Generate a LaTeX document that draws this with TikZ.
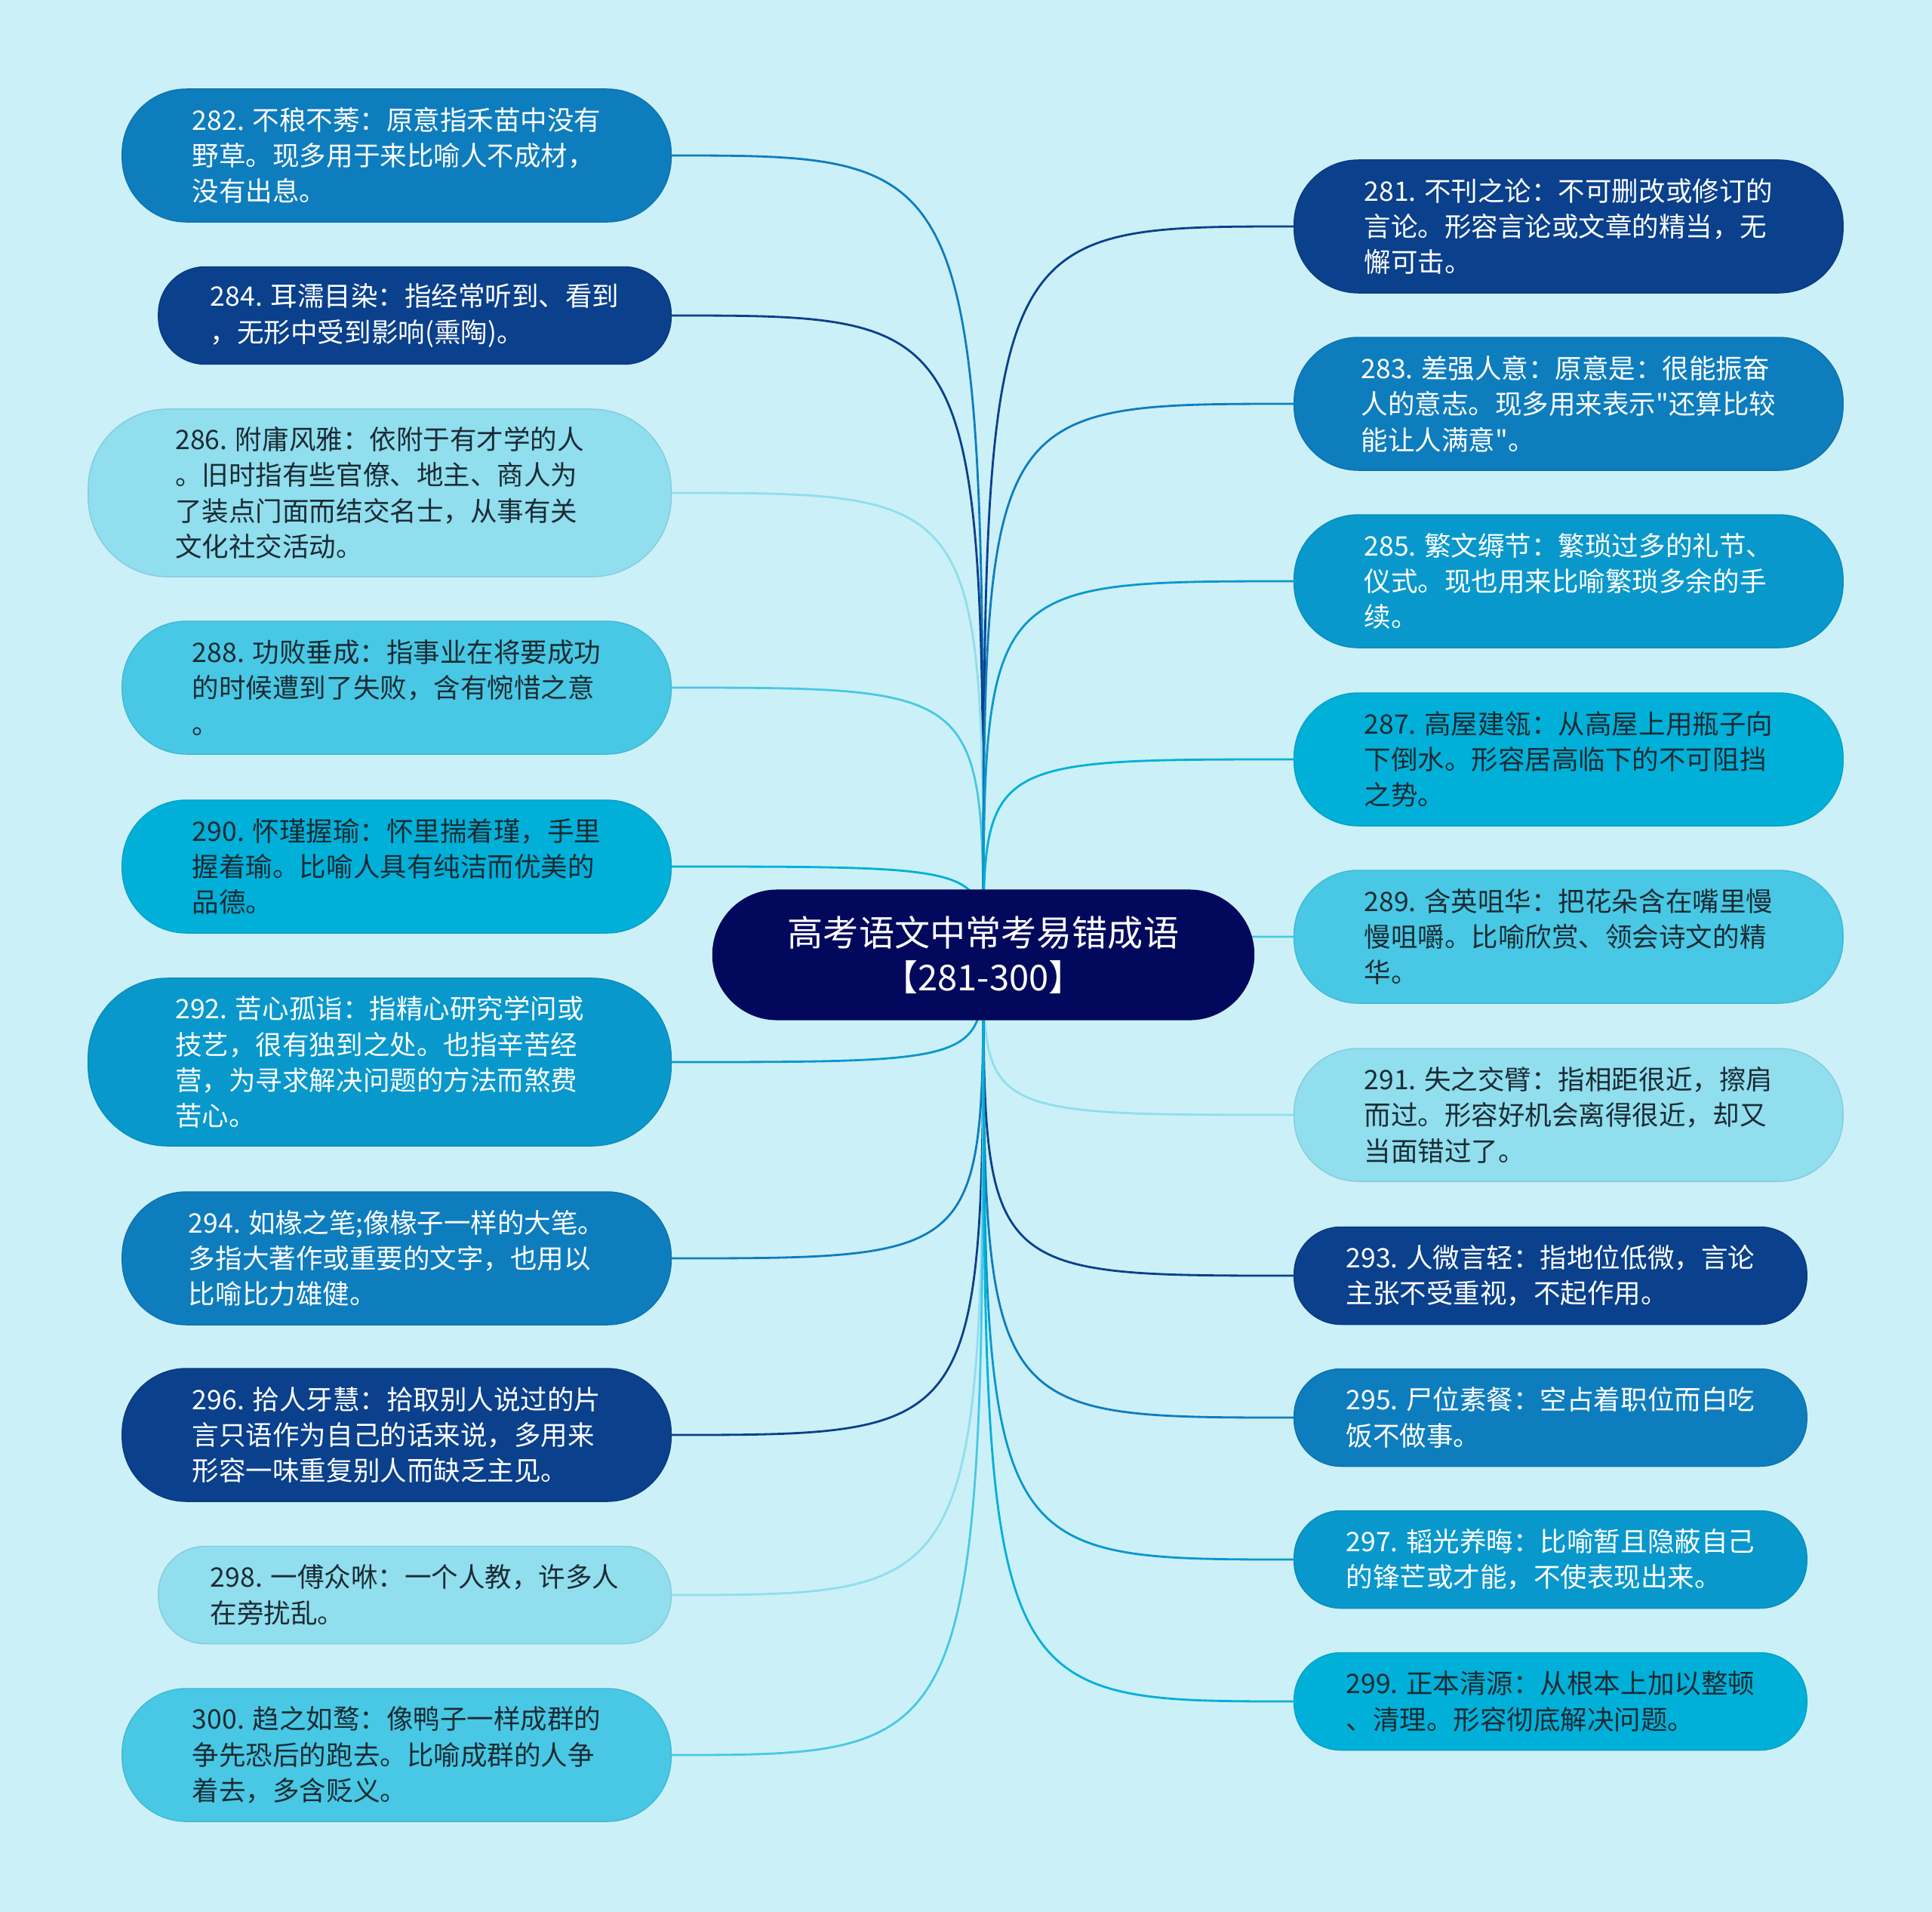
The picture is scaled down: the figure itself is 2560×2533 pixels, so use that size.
\documentclass[tikz,border=0pt]{standalone}
\usepackage{fontspec}
\setmainfont{Noto Sans CJK SC}
\newfontfamily\plainq{Noto Sans CJK SC}
\usetikzlibrary{positioning}
\definecolor{Bg}{HTML}{CCF0F8}
\definecolor{Root}{HTML}{02095C}
\definecolor{Deep}{HTML}{0A408C}
\definecolor{Mid}{HTML}{0E7DBE}
\definecolor{Sea}{HTML}{0998CC}
\definecolor{Aqua}{HTML}{00B0D8}
\definecolor{Sky}{HTML}{48C8E4}
\definecolor{Pale}{HTML}{90DEEE}
\definecolor{Ink}{HTML}{1B2B33}
\pgfdeclarelayer{bg}
\pgfsetlayers{bg,main}

\begin{document}
\begin{tikzpicture}[x=0.01cm, y=-0.01cm,
  leaf/.style={draw=#1!92!black, fill=#1, line width=0.4pt, align=left,
    inner sep=0pt, font=\fontsize{10.1pt}{13.46pt}\selectfont},
  whitetxt/.style={text=white}, inktxt/.style={text=Ink},
  rows2/.style={minimum width=6.79cm, minimum height=1.29cm, rounded corners=0.62cm},
  rows3/.style={minimum width=7.27cm, minimum height=1.76cm, rounded corners=0.85cm},
  rows4/.style={minimum width=7.72cm, minimum height=2.22cm, rounded corners=1.05cm},
  link/.style={line width=0.8pt}]
  \useasboundingbox (0,0) rectangle (2560,2533);

  % centre
  \node[fill=Root, text=white, rounded corners=0.86cm, minimum width=7.18cm,
    minimum height=1.73cm, align=center,
    font=\fontsize{13.4pt}{16.8pt}\selectfont] (root) at (1303,1265)
    {高考语文中常考易错成语\\【281-300】};

  % left column
  \node[leaf=Mid, whitetxt, rows3, anchor=east] (n282) at (890,206)
    {282. 不稂不莠：原意指禾苗中没有\\野草。现多用于来比喻人不成材，\\没有出息。};
  \node[leaf=Deep, whitetxt, rows2, anchor=east] (n284) at (890,418)
    {284. 耳濡目染：指经常听到、看到\\，无形中受到影响(熏陶)。};
  \node[leaf=Pale, inktxt, rows4, anchor=east] (n286) at (890,653)
    {286. 附庸风雅：依附于有才学的人\\。旧时指有些官僚、地主、商人为\\了装点门面而结交名士，从事有关\\文化社交活动。};
  \node[leaf=Sky, inktxt, rows3, anchor=east] (n288) at (890,911)
    {288. 功败垂成：指事业在将要成功\\的时候遭到了失败，含有惋惜之意\\。};
  \node[leaf=Aqua, inktxt, rows3, anchor=east] (n290) at (890,1148)
    {290. 怀瑾握瑜：怀里揣着瑾，手里\\握着瑜。比喻人具有纯洁而优美的\\品德。};
  \node[leaf=Sea, whitetxt, rows4, anchor=east] (n292) at (890,1407)
    {292. 苦心孤诣：指精心研究学问或\\技艺，很有独到之处。也指辛苦经\\营，为寻求解决问题的方法而煞费\\苦心。};
  \node[leaf=Mid, whitetxt, rows3, anchor=east] (n294) at (890,1667)
    {294. 如椽之笔;像椽子一样的大笔。\\多指大著作或重要的文字，也用以\\比喻比力雄健。};
  \node[leaf=Deep, whitetxt, rows3, anchor=east] (n296) at (890,1901)
    {296. 拾人牙慧：拾取别人说过的片\\言只语作为自己的话来说，多用来\\形容一味重复别人而缺乏主见。};
  \node[leaf=Pale, inktxt, rows2, anchor=east] (n298) at (890,2113)
    {298. 一傅众咻：一个人教，许多人\\在旁扰乱。};
  \node[leaf=Sky, inktxt, rows3, anchor=east] (n300) at (890,2325)
    {300. 趋之如鹜：像鸭子一样成群的\\争先恐后的跑去。比喻成群的人争\\着去，多含贬义。};

  % right column
  \node[leaf=Deep, whitetxt, rows3, anchor=west] (n281) at (1714,300)
    {281. 不刊之论：不可删改或修订的\\言论。形容言论或文章的精当，无\\懈可击。};
  \node[leaf=Mid, whitetxt, rows3, anchor=west] (n283) at (1714,535)
    {283. 差强人意：原意是：很能振奋\\人的意志。现多用来表示{\plainq"}还算比较\\能让人满意{\plainq"}。};
  \node[leaf=Sea, whitetxt, rows3, anchor=west] (n285) at (1714,770)
    {285. 繁文缛节：繁琐过多的礼节、\\仪式。现也用来比喻繁琐多余的手\\续。};
  \node[leaf=Aqua, inktxt, rows3, anchor=west] (n287) at (1714,1006)
    {287. 高屋建瓴：从高屋上用瓶子向\\下倒水。形容居高临下的不可阻挡\\之势。};
  \node[leaf=Sky, inktxt, rows3, anchor=west] (n289) at (1714,1241)
    {289. 含英咀华：把花朵含在嘴里慢\\慢咀嚼。比喻欣赏、领会诗文的精\\华。};
  \node[leaf=Pale, inktxt, rows3, anchor=west] (n291) at (1714,1477)
    {291. 失之交臂：指相距很近，擦肩\\而过。形容好机会离得很近，却又\\当面错过了。};
  \node[leaf=Deep, whitetxt, rows2, anchor=west] (n293) at (1714,1690)
    {293. 人微言轻：指地位低微，言论\\主张不受重视，不起作用。};
  \node[leaf=Mid, whitetxt, rows2, anchor=west] (n295) at (1714,1878)
    {295. 尸位素餐：空占着职位而白吃\\饭不做事。};
  \node[leaf=Sea, whitetxt, rows2, anchor=west] (n297) at (1714,2066)
    {297. 韬光养晦：比喻暂且隐蔽自己\\的锋芒或才能，不使表现出来。};
  \node[leaf=Aqua, inktxt, rows2, anchor=west] (n299) at (1714,2254)
    {299. 正本清源：从根本上加以整顿\\、清理。形容彻底解决问题。};

  % links, behind the boxes
  \begin{pgfonlayer}{bg}
    \fill[Bg] (0,0) rectangle (2560,2533);
    \draw[link, Mid] (root.center) .. controls (root.center |- n282.east) .. (n282.east);
    \draw[link, Deep] (root.center) .. controls (root.center |- n284.east) .. (n284.east);
    \draw[link, Pale] (root.center) .. controls (root.center |- n286.east) .. (n286.east);
    \draw[link, Sky] (root.center) .. controls (root.center |- n288.east) .. (n288.east);
    \draw[link, Aqua] (root.center) .. controls (root.center |- n290.east) .. (n290.east);
    \draw[link, Sea] (root.center) .. controls (root.center |- n292.east) .. (n292.east);
    \draw[link, Mid] (root.center) .. controls (root.center |- n294.east) .. (n294.east);
    \draw[link, Deep] (root.center) .. controls (root.center |- n296.east) .. (n296.east);
    \draw[link, Pale] (root.center) .. controls (root.center |- n298.east) .. (n298.east);
    \draw[link, Sky] (root.center) .. controls (root.center |- n300.east) .. (n300.east);
    \draw[link, Deep] (root.center) .. controls (root.center |- n281.west) .. (n281.west);
    \draw[link, Mid] (root.center) .. controls (root.center |- n283.west) .. (n283.west);
    \draw[link, Sea] (root.center) .. controls (root.center |- n285.west) .. (n285.west);
    \draw[link, Aqua] (root.center) .. controls (root.center |- n287.west) .. (n287.west);
    \draw[link, Sky] (root.center) .. controls (root.center |- n289.west) .. (n289.west);
    \draw[link, Pale] (root.center) .. controls (root.center |- n291.west) .. (n291.west);
    \draw[link, Deep] (root.center) .. controls (root.center |- n293.west) .. (n293.west);
    \draw[link, Mid] (root.center) .. controls (root.center |- n295.west) .. (n295.west);
    \draw[link, Sea] (root.center) .. controls (root.center |- n297.west) .. (n297.west);
    \draw[link, Aqua] (root.center) .. controls (root.center |- n299.west) .. (n299.west);
  \end{pgfonlayer}
\end{tikzpicture}
\end{document}
